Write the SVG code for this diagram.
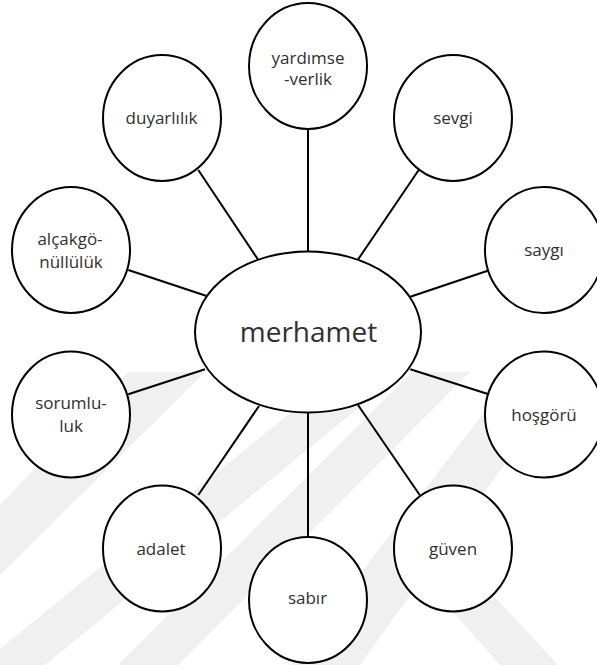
<svg xmlns="http://www.w3.org/2000/svg" width="597" height="665" viewBox="0 0 597 665">
<style>
.n{fill:#fff;stroke:#000;stroke-width:2}
.c line{stroke:#000;stroke-width:2}
.t{font-family:"Open Sans","Noto Sans","Liberation Sans",sans-serif;font-size:17px;fill:#303030;text-anchor:middle}
.big{font-size:28px}
.wm{fill:#f0f0f0}
</style>
<rect width="597" height="665" fill="#fff"/>
<g id="watermark">
<polygon class="wm" points="128,372 205,372 0,575 0,505"/>
<polygon class="wm" points="300,405 362,405 45,665 -20,665"/>
<polygon class="wm" points="412,372 470,372 178,665 118,665"/>
<polygon class="wm" points="482,415 540,415 360,665 290,665"/>
<polygon class="wm" points="390,540 442,540 558,665 500,665"/>
</g>
<g class="c" id="connectors">
<line x1="198.3" y1="170" x2="258.3" y2="260"/>
<line x1="128.3" y1="270" x2="206.7" y2="296"/>
<line x1="308" y1="129" x2="308" y2="252"/>
<line x1="418.7" y1="170" x2="357.7" y2="260"/>
<line x1="487.7" y1="270.7" x2="410.3" y2="296.7"/>
<line x1="128.3" y1="394.3" x2="205" y2="369.3"/>
<line x1="198.3" y1="495" x2="259" y2="406"/>
<line x1="308" y1="412" x2="308" y2="537"/>
<line x1="358" y1="405" x2="419.7" y2="495"/>
<line x1="410.3" y1="369.3" x2="488.7" y2="394.3"/>
</g>
<g id="merhamet">
<ellipse class="n" cx="308" cy="332" rx="113" ry="80.5"/>
<text class="t big" x="308.5" y="341.7">merhamet</text>
</g>
<g id="yardimseverlik">
<ellipse class="n" cx="308" cy="66" rx="59" ry="63"/>
<text class="t" x="308" y="64">yardımse</text>
<text class="t" x="308" y="85">-verlik</text>
</g>
<g id="sevgi">
<ellipse class="n" cx="453" cy="118" rx="59" ry="63"/>
<text class="t" x="453" y="124">sevgi</text>
</g>
<g id="saygi">
<ellipse class="n" cx="544" cy="250" rx="59" ry="63"/>
<text class="t" x="544" y="256">saygı</text>
</g>
<g id="hosgoru">
<ellipse class="n" cx="544" cy="414.5" rx="59" ry="63"/>
<text class="t" x="544" y="420.7">hoşgörü</text>
</g>
<g id="guven">
<ellipse class="n" cx="453" cy="548.5" rx="59" ry="63"/>
<text class="t" x="453" y="555">güven</text>
</g>
<g id="sabir">
<ellipse class="n" cx="308" cy="600" rx="59" ry="63"/>
<text class="t" x="307.5" y="604">sabır</text>
</g>
<g id="adalet">
<ellipse class="n" cx="162" cy="548.5" rx="59" ry="63"/>
<text class="t" x="161" y="555">adalet</text>
</g>
<g id="sorumluluk">
<ellipse class="n" cx="71" cy="414.5" rx="59" ry="63"/>
<text class="t" x="71" y="409">sorumlu-</text>
<text class="t" x="71" y="431.7">luk</text>
</g>
<g id="alcakgonulluluk">
<ellipse class="n" cx="71" cy="250" rx="59" ry="63"/>
<text class="t" x="70" y="245">alçakgö-</text>
<text class="t" x="71" y="268.3">nüllülük</text>
</g>
<g id="duyarlilik">
<ellipse class="n" cx="162" cy="118" rx="59" ry="63"/>
<text class="t" x="161.5" y="123.5">duyarlılık</text>
</g>
</svg>
